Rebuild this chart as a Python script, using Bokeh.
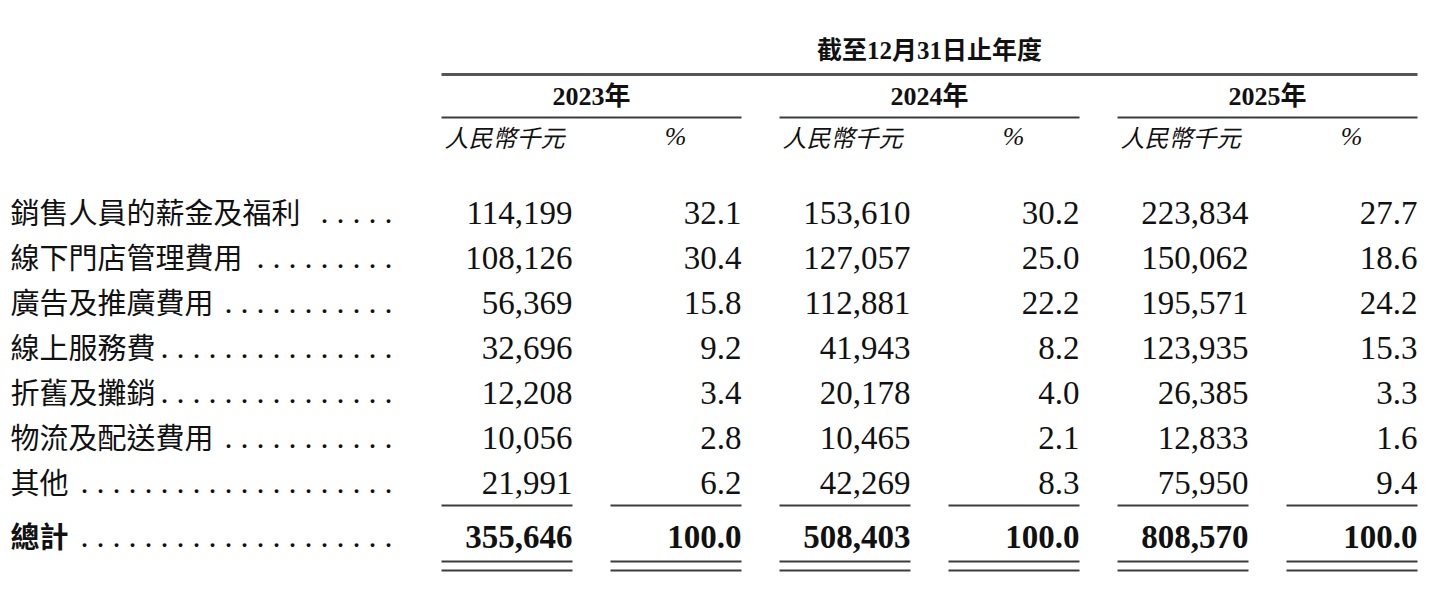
from bokeh.plotting import figure
from bokeh.models import ColumnDataSource, Range1d
from bokeh.core.properties import value
from bokeh.embed import file_html
from bokeh.resources import INLINE

# ---------------- data ----------------
title = "截至12月31日止年度"
years = ["2023年", "2024年", "2025年"]
unit_label = "人民幣千元"
pct_label = "%"
categories = ["銷售人員的薪金及福利", "線下門店管理費用", "廣告及推廣費用",
              "線上服務費", "折舊及攤銷", "物流及配送費用", "其他"]
amount_2023 = [114199, 108126, 56369, 32696, 12208, 10056, 21991]
pct_2023 = [32.1, 30.4, 15.8, 9.2, 3.4, 2.8, 6.2]
amount_2024 = [153610, 127057, 112881, 41943, 20178, 10465, 42269]
pct_2024 = [30.2, 25.0, 22.2, 8.2, 4.0, 2.1, 8.3]
amount_2025 = [223834, 150062, 195571, 123935, 26385, 12833, 75950]
pct_2025 = [27.7, 18.6, 24.2, 15.3, 3.3, 1.6, 9.4]
total_label = "總計"
total_amount = [355646, 508403, 808570]
total_pct = [100.0, 100.0, 100.0]
leader_counts = [5, 9, 11, 15, 15, 11, 20]
total_leader_count = 20

amounts = [amount_2023, amount_2024, amount_2025]
pcts = [pct_2023, pct_2024, pct_2025]

# ---------------- layout ----------------
W, H = 1423, 590
LABEL_X = 10
LEADER_RIGHT = 392
GROUP_LEFT = 441
GROUP_STEP = 338
AMT_RIGHT = 131
PCT_LEFT = 169
PCT_RIGHT = 300
ROW0 = 210
ROW_STEP = 45
TOTAL_Y = 534
TITLE_Y = 50
TOPLINE_Y = 74
YEAR_Y = 96
YEARLINE_Y = 117
SUB_Y = 136
SUBLINE_Y = 505
DOUBLE_Y1 = 561
DOUBLE_Y2 = 570

SERIF = value("'Liberation Serif', 'Noto Sans CJK TC'")
CJK = value("'Noto Sans CJK TC'")
TXT = "#111111"
LINE = "#3c3c3c"

p = figure(width=W, height=H, x_range=Range1d(0, W), y_range=Range1d(H, 0),
           output_backend="svg", toolbar_location=None, min_border=0,
           x_axis_type=None, y_axis_type=None)
p.grid.visible = False
p.outline_line_color = None
p.background_fill_color = "white"
p.border_fill_color = "white"

n = len(categories)
row_y = [ROW0 + i * ROW_STEP for i in range(n)]

# title
p.text(x=[GROUP_LEFT + (GROUP_STEP * 2 + PCT_RIGHT) / 2], y=[TITLE_Y], text=[title],
       text_font=SERIF, text_font_size=value("25px"), text_font_style="bold",
       text_align="center", text_baseline="middle", text_color=TXT)

# top rule
p.segment(x0=[GROUP_LEFT], y0=[TOPLINE_Y], x1=[GROUP_LEFT + GROUP_STEP * 2 + PCT_RIGHT],
          y1=[TOPLINE_Y], line_color="#555555", line_width=3)

gl = [GROUP_LEFT + g * GROUP_STEP for g in range(len(years))]

# year headers
p.text(x=[g + PCT_RIGHT / 2 for g in gl], y=[YEAR_Y] * len(years), text=years,
       text_font=SERIF, text_font_size=value("26px"), text_font_style="bold",
       text_align="center", text_baseline="middle", text_color=TXT)
p.segment(x0=gl, y0=[YEARLINE_Y] * len(gl), x1=[g + PCT_RIGHT for g in gl],
          y1=[YEARLINE_Y] * len(gl), line_color=LINE, line_width=2)

# sub headers
p.text(x=[g + 3 for g in gl], y=[SUB_Y] * len(gl), text=[unit_label] * len(gl),
       text_font=CJK, text_font_size=value("24px"), text_font_style="italic",
       text_align="left", text_baseline="middle", text_color=TXT)
p.text(x=[g + 234 for g in gl], y=[SUB_Y] * len(gl), text=[pct_label] * len(gl),
       text_font=SERIF, text_font_size=value("26px"), text_font_style="italic",
       text_align="center", text_baseline="middle", text_color=TXT)

# row labels and leaders
p.text(x=[LABEL_X] * n, y=row_y, text=categories, text_font=CJK,
       text_font_size=value("29px"), text_align="left", text_baseline="middle",
       text_color=TXT)
p.text(x=[LEADER_RIGHT] * n, y=[y + 1 for y in row_y],
       text=[" ".join(["."] * c) for c in leader_counts], text_font=SERIF,
       text_font_size=value("32px"), text_align="right", text_baseline="middle",
       text_color=TXT)

# values
for g, left in enumerate(gl):
    src = ColumnDataSource(dict(
        xa=[left + AMT_RIGHT] * n, xp=[left + PCT_RIGHT] * n, y=[y + 2 for y in row_y],
        a=[f"{v:,}" for v in amounts[g]], pc=[f"{v:.1f}" for v in pcts[g]]))
    p.text(x="xa", y="y", text="a", source=src, text_font=SERIF,
           text_font_size=value("33px"), text_align="right", text_baseline="middle",
           text_color=TXT)
    p.text(x="xp", y="y", text="pc", source=src, text_font=SERIF,
           text_font_size=value("33px"), text_align="right", text_baseline="middle",
           text_color=TXT)

# total row
p.text(x=[LABEL_X], y=[TOTAL_Y], text=[total_label], text_font=CJK,
       text_font_size=value("29px"), text_font_style="bold", text_align="left",
       text_baseline="middle", text_color=TXT)
p.text(x=[LEADER_RIGHT], y=[TOTAL_Y + 1], text=[" ".join(["."] * total_leader_count)],
       text_font=SERIF, text_font_size=value("32px"), text_align="right",
       text_baseline="middle", text_color=TXT)
p.text(x=[g + AMT_RIGHT for g in gl], y=[TOTAL_Y + 2] * len(gl),
       text=[f"{v:,}" for v in total_amount], text_font=SERIF,
       text_font_size=value("33px"), text_font_style="bold", text_align="right",
       text_baseline="middle", text_color=TXT)
p.text(x=[g + PCT_RIGHT for g in gl], y=[TOTAL_Y + 2] * len(gl),
       text=[f"{v:.1f}" for v in total_pct], text_font=SERIF,
       text_font_size=value("33px"), text_font_style="bold", text_align="right",
       text_baseline="middle", text_color=TXT)

# sub-total and double rules
x0s, x1s = [], []
for left in gl:
    x0s += [left, left + PCT_LEFT]
    x1s += [left + AMT_RIGHT, left + PCT_RIGHT]
for yy in (SUBLINE_Y, DOUBLE_Y1, DOUBLE_Y2):
    p.segment(x0=x0s, y0=[yy] * len(x0s), x1=x1s, y1=[yy] * len(x0s),
              line_color=LINE, line_width=2)

open("out.html", "w").write(file_html(p, INLINE))
